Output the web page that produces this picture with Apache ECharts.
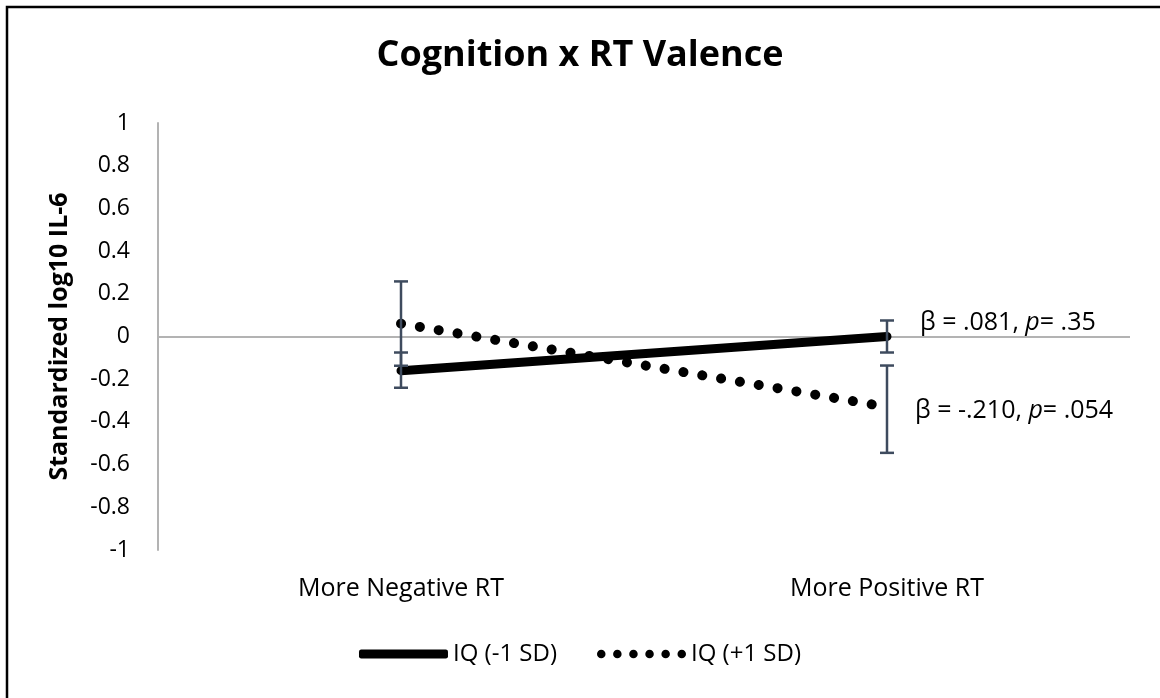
<!DOCTYPE html>
<html>
<head>
<meta charset="utf-8">
<title>Cognition x RT Valence</title>
<script src="https://cdn.jsdelivr.net/npm/echarts@6/dist/echarts.min.js"></script>
<style>
    html, body { margin: 0; padding: 0; background: #fff; }
    #chart { width: 1160px; height: 698px; }
</style>
</head>
<body>
<div id="chart"></div>
<script>
'use strict';

// data
var categories = ['More Negative RT', 'More Positive RT'];
var lowIQ = [-0.16, 0.0];          // IQ (-1 SD)
var highIQ = [0.06, -0.33];        // IQ (+1 SD)
var lowIQLow = [-0.24, -0.075];
var lowIQHigh = [-0.075, 0.075];
var highIQLow = [-0.137, -0.545];
var highIQHigh = [0.258, -0.136];
var seriesNames = ['IQ (-1 SD)', 'IQ (+1 SD)'];
var notes = ['.081', '.35', '-.210', '.054'];

var font = '"Open Sans"';
var errColor = '#3e4b5e';

var errData = [];
for (var i = 0; i < categories.length; i++) {
    errData.push([i, lowIQLow[i], lowIQHigh[i]]);
    errData.push([i, highIQLow[i], highIQHigh[i]]);
}

// six round dots for the dotted legend icon
var dotsIcon = 'path://';
for (var d = 0; d < 6; d++) {
    var cx = d * 17;
    dotsIcon += 'M' + cx + ',4.5a4.5,4.5 0 1,0 9,0a4.5,4.5 0 1,0 -9,0Z';
}

function renderError(params, api) {
    var x = api.value(0);
    var lo = api.coord([x, api.value(1)]);
    var hi = api.coord([x, api.value(2)]);
    var half = 7;
    var style = { stroke: errColor, lineWidth: 2.5, fill: null };
    return {
        type: 'group',
        children: [
            { type: 'line', shape: { x1: lo[0], y1: lo[1], x2: hi[0], y2: hi[1] }, style: style },
            { type: 'line', shape: { x1: lo[0] - half, y1: lo[1], x2: lo[0] + half, y2: lo[1] }, style: style },
            { type: 'line', shape: { x1: hi[0] - half, y1: hi[1], x2: hi[0] + half, y2: hi[1] }, style: style }
        ]
    };
}

function noteText(beta, p) {
    return '{n|\u03b2 = ' + beta + ', }{i|p}{n|= ' + p + '}';
}

var noteRich = {
    n: { fontFamily: font, fontSize: 25, fill: '#000' },
    i: { fontFamily: font, fontSize: 25, fontStyle: 'italic', fill: '#000' }
};

var chart = echarts.init(document.getElementById('chart'));
chart.setOption({
    backgroundColor: '#fff',
    animation: false,
    title: {
        text: 'Cognition x RT Valence',
        left: 'center',
        top: 33,
        textStyle: { fontFamily: font, fontSize: 36, fontWeight: 'bold', color: '#000' }
    },
    legend: {
        bottom: 27,
        left: 'center',
        itemWidth: 89,
        itemHeight: 9,
        itemGap: 40,
        data: [
            { name: seriesNames[0], icon: 'roundRect' },
            { name: seriesNames[1], icon: dotsIcon }
        ],
        textStyle: { fontFamily: font, fontSize: 24, color: '#000' }
    },
    grid: { left: 158, right: 30, top: 123, bottom: 148 },
    xAxis: {
        type: 'category',
        data: categories,
        boundaryGap: true,
        axisLine: { show: false },
        axisTick: { show: false },
        axisLabel: { margin: 26, fontFamily: font, fontSize: 25, color: '#000' }
    },
    yAxis: {
        type: 'value',
        min: -1,
        max: 1,
        interval: 0.2,
        name: 'Standardized log10 IL-6',
        nameLocation: 'middle',
        nameGap: 86,
        nameTextStyle: { fontFamily: font, fontSize: 25, fontWeight: 'bold', color: '#000' },
        axisLine: { show: true, lineStyle: { color: '#b3b3b3', width: 2 } },
        axisTick: { show: false },
        splitLine: { show: false },
        axisLabel: { margin: 28, fontFamily: font, fontSize: 23, color: '#000' }
    },
    series: [
        {
            name: seriesNames[0],
            type: 'line',
            data: lowIQ,
            symbol: 'none',
            z: 4,
            lineStyle: { color: '#000', width: 9, cap: 'round' },
            itemStyle: { color: '#000' },
            markLine: {
                silent: true,
                symbol: 'none',
                label: { show: false },
                lineStyle: { color: '#b3b3b3', width: 2, type: 'solid' },
                data: [{ yAxis: 0 }],
                z: 1
            }
        },
        {
            name: seriesNames[1],
            type: 'line',
            data: highIQ,
            symbol: 'none',
            z: 3,
            lineStyle: { color: '#000', width: 10, type: [0.1, 19], cap: 'round' },
            itemStyle: { color: '#000' }
        },
        {
            type: 'custom',
            renderItem: renderError,
            data: errData,
            z: 5,
            silent: true
        }
    ],
    graphic: [
        {
            type: 'rect',
            shape: { x: 7, y: 7, width: 1300, height: 900 },
            style: { fill: null, stroke: '#000', lineWidth: 2.5 },
            silent: true
        },
        {
            type: 'text',
            x: 920,
            y: 323,
            style: { text: noteText(notes[0], notes[1]), rich: noteRich, verticalAlign: 'middle' }
        },
        {
            type: 'text',
            x: 915,
            y: 411,
            style: { text: noteText(notes[2], notes[3]), rich: noteRich, verticalAlign: 'middle' }
        }
    ]
});
</script>
</body>
</html>
